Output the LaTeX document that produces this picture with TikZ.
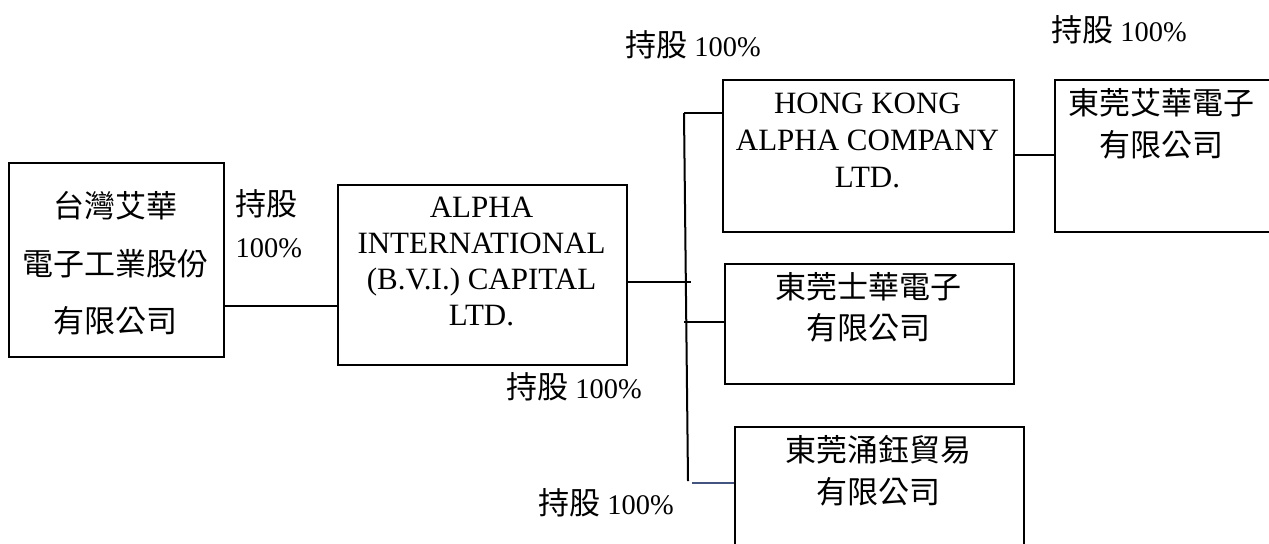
\documentclass[tikz,border=0pt]{standalone}
\usepackage{fontspec}
\setmainfont{Liberation Serif}
\newfontfamily\cjkfont{Noto Sans CJK TC}
\definecolor{linkblue}{RGB}{68,84,128}

\begin{document}
\begin{tikzpicture}[x=0.5pt, y=-0.5pt, line width=1pt,
    box/.style={draw, anchor=north west, inner sep=0pt},
    entxt/.style={align=center, font=\fontsize{15.5}{18}\selectfont},
    cntxt/.style={align=center, font=\cjkfont\fontsize{15.5}{20.5}\selectfont},
    lbl/.style={font=\fontsize{14.2}{21}\selectfont}]
  \useasboundingbox (0,0) rectangle (1269,543);
  \clip (0,0) rectangle (1269,543);

  % boxes
  \node[box, minimum width=107.5pt, minimum height=97pt] (tw) at (8,162) {};
  \node[box, minimum width=144.5pt, minimum height=90pt] (bvi) at (337,184) {};
  \node[box, minimum width=145.5pt, minimum height=76pt] (hk) at (722,79) {};
  \node[box, minimum width=140pt, minimum height=76pt] (dgah) at (1054,79) {};
  \node[box, minimum width=144.5pt, minimum height=60pt] (dgsh) at (724,263) {};
  \node[box, minimum width=144.5pt, minimum height=67pt] (dgyy) at (734,426) {};

  % box texts
  \node[cntxt, font=\cjkfont\fontsize{15.5}{28.75}\selectfont] (twtxt) at (115.5,263.5) {台灣艾華\\電子工業股份\\有限公司};
  \node[entxt] (bvitxt) at (481.5,261) {ALPHA\\INTERNATIONAL\\(B.V.I.) CAPITAL\\LTD.};
  \node[entxt, font=\fontsize{15.5}{18.5}\selectfont] (hktxt) at (867.5,140) {HONG KONG\\ALPHA COMPANY\\LTD.};
  \node[cntxt, font=\cjkfont\fontsize{15.5}{21}\selectfont] (dgahtxt) at (1161,124) {東莞艾華電子\\有限公司};
  \node[cntxt] (dgshtxt) at (868.5,307.5) {東莞士華電子\\有限公司};
  \node[cntxt, font=\cjkfont\fontsize{15.5}{21}\selectfont] (dgyytxt) at (878.5,471) {東莞涌鈺貿易\\有限公司};

  % connectors
  \coordinate (bustop) at (684,113);
  \coordinate (busbot) at (688,481);
  \draw (tw.east |- 0,306) -- (bvi.west |- 0,306);
  \draw (bustop) -- (busbot);
  \draw (bvi.east |- 0,282) -- ++(63,0);
  \draw (bustop) -- (hk.west |- bustop);
  \draw (684,322) -- (dgsh.west |- 0,322);
  \draw[linkblue] (692,483) -- (dgyy.west |- 0,483);
  \draw (hk.east |- 0,155) -- (dgah.west |- 0,155);

  % share labels
  \node[lbl, align=left, anchor=west] (l1) at (228,224) {{\cjkfont\fontsize{15.5}{21}\selectfont 持股}\\100\%};
  \node[lbl] (l2) at (693,45) {{\cjkfont\fontsize{15.5}{21}\selectfont 持股} 100\%};
  \node[lbl] (l3) at (1119,30) {{\cjkfont\fontsize{15.5}{21}\selectfont 持股} 100\%};
  \node[lbl] (l4) at (574,387) {{\cjkfont\fontsize{15.5}{21}\selectfont 持股} 100\%};
  \node[lbl] (l5) at (606,503) {{\cjkfont\fontsize{15.5}{21}\selectfont 持股} 100\%};
\end{tikzpicture}
\end{document}
